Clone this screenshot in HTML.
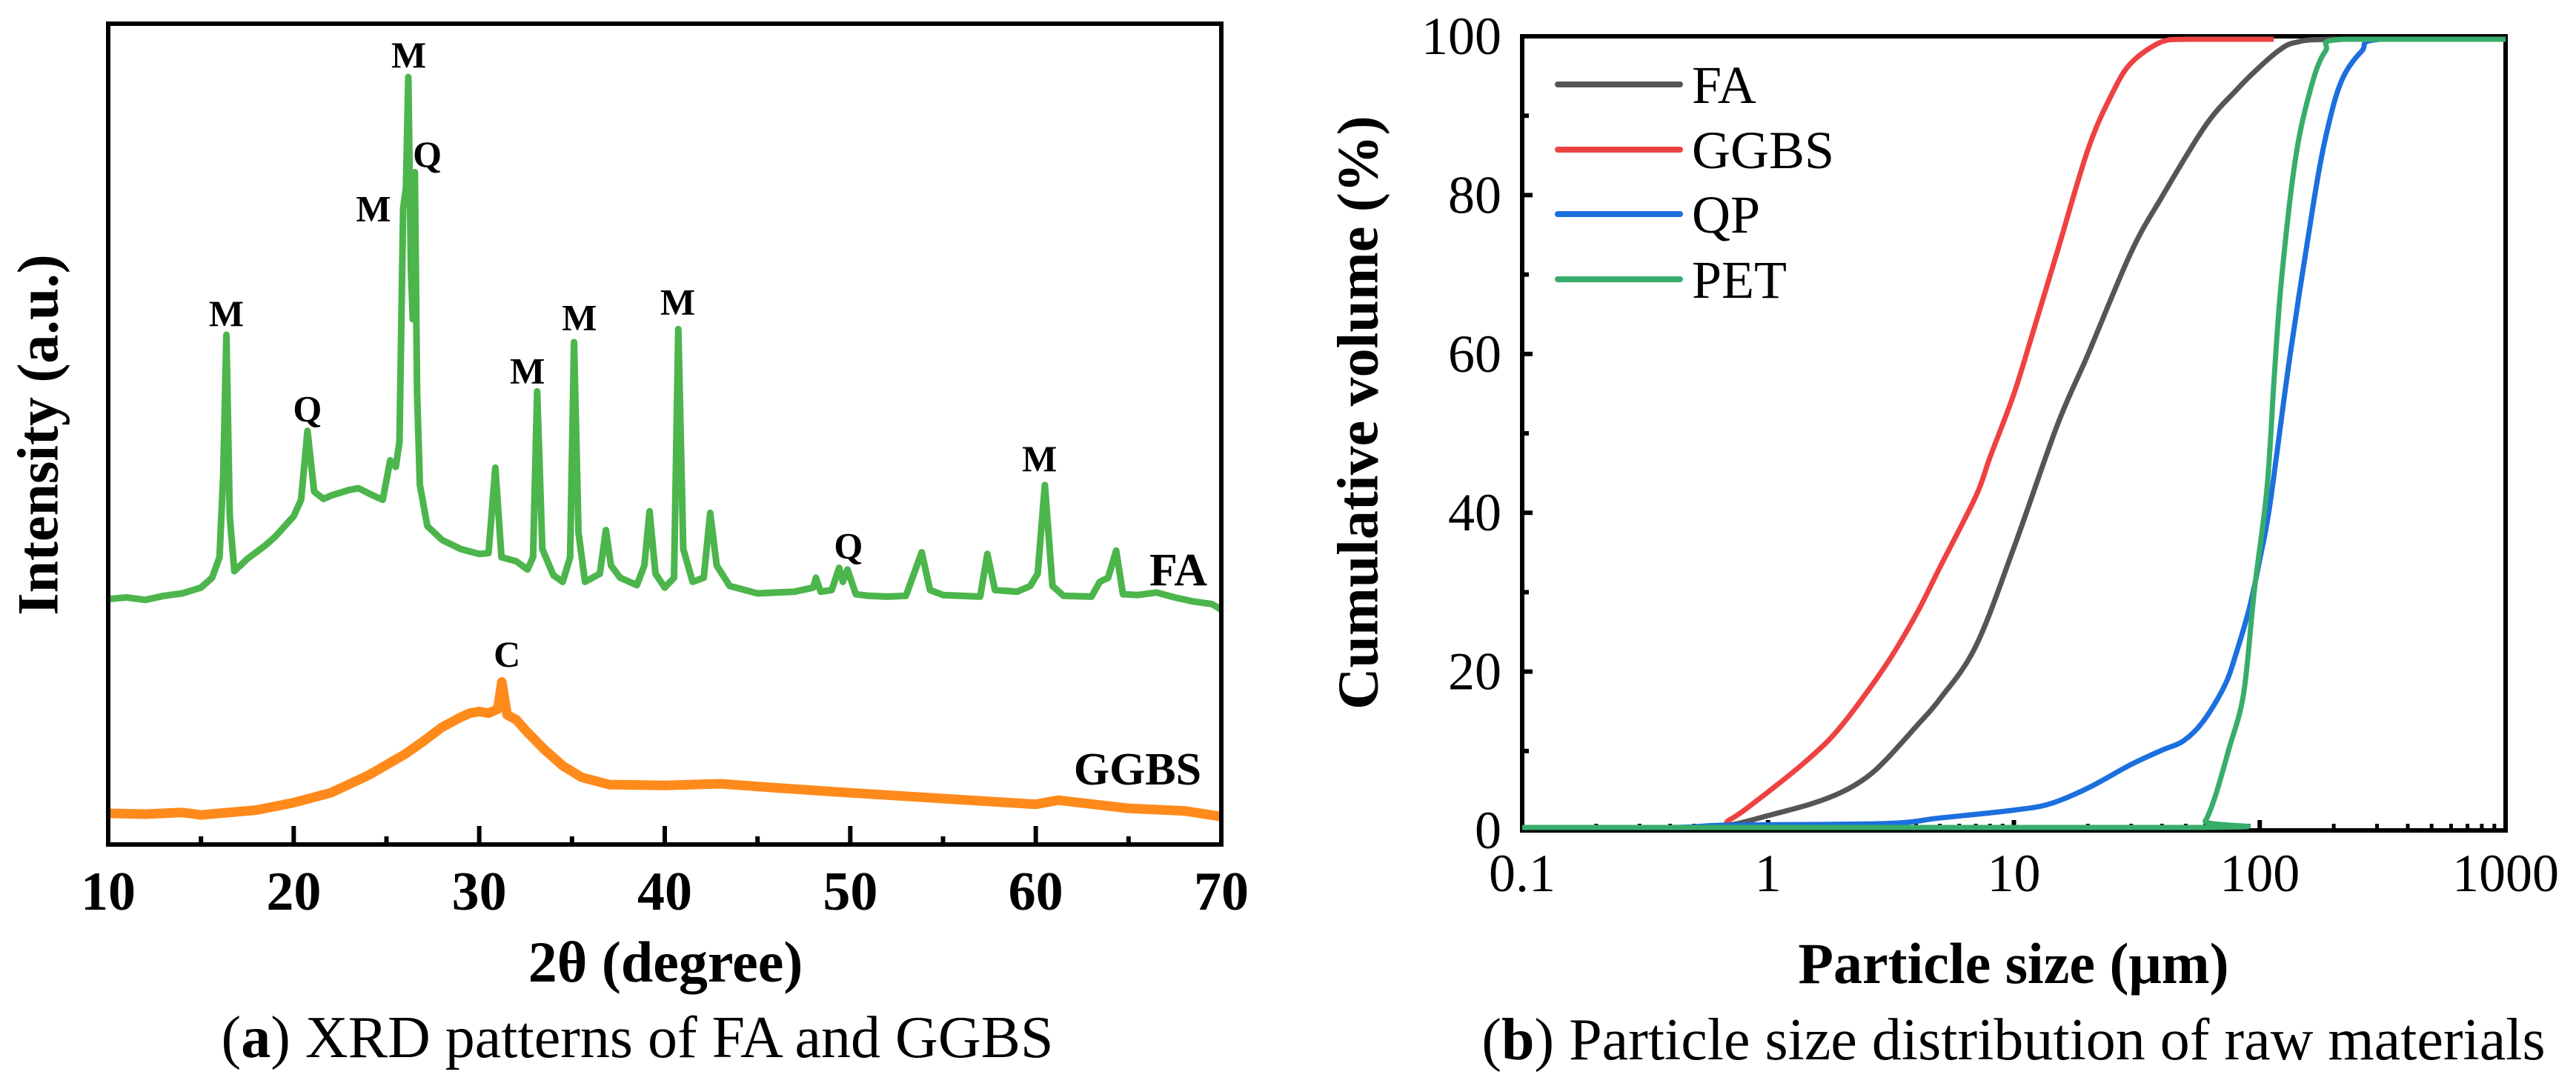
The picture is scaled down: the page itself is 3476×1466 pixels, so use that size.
<!DOCTYPE html>
<html><head><meta charset="utf-8"><style>
html,body{margin:0;padding:0;background:#fff;}
svg{display:block;font-family:"Liberation Serif",serif;}
</style></head><body>
<svg id="fig" width="3476" height="1466" viewBox="0 0 3476 1466" xmlns="http://www.w3.org/2000/svg">
<g id="left"></g>
<g id="right"></g>
</svg>
<script>
// ---------- XRD data (2θ degree, intensity a.u. 0-100 scale) ----------
const faX = [10,11,12,13,14,15,15.6,16,16.2,16.37,16.55,16.8,17.5,18.5,19,20,20.4,20.74,21.1,21.6,22,23,23.5,24.3,24.8,25.2,25.5,25.7,25.9,26.05,26.18,26.32,26.42,26.53,26.65,26.8,27.2,28,29,30,30.5,30.87,31.2,32,32.6,32.9,33.12,33.4,34,34.5,34.9,35.11,35.35,35.7,36.5,36.83,37.1,37.6,38.5,38.9,39.18,39.5,40,40.5,40.73,41,41.5,42.1,42.45,42.8,43.5,45,47,48,48.15,48.4,49,49.4,49.6,49.85,50.3,51,52,53,53.85,54.3,55,57,57.39,57.8,59,59.7,60.1,60.49,60.9,61.5,63,63.45,63.9,64.33,64.7,65.5,66.5,67.5,68.5,69.5,70];
const faY = [29.9,30.1,29.8,30.3,30.6,31.3,32.5,35,45,62.1,40,33.3,34.8,36.5,37.5,40,42,50.4,43,42.1,42.5,43.2,43.4,42.5,42,46.8,46,49,77.5,80,93.5,70,64,81.9,55,43.8,38.8,37.1,36,35.4,35.5,45.9,35,34.5,33.5,35,55.2,36,32.8,32,35,61.2,38,32,33,38.3,34,32.5,31.6,34,40.6,33,31.3,32.5,62.8,36,32,32.5,40.4,34,31.5,30.6,30.8,31.3,32.5,30.8,31,33.7,32,33.5,30.5,30.3,30.2,30.3,35.6,31,30.4,30.2,35.4,31,30.8,31.5,33,43.8,31.5,30.3,30.2,32,32.5,35.8,30.5,30.4,30.7,30.1,29.6,29.3,28.6];
const ggX = [10,12,14,15,16,18,20,22,24,26,27,28,29,29.5,30,30.5,31,31.22,31.5,32,32.5,33.5,34.5,35.5,37,40,43,46,50,55,60,61.2,65,68,70];
const ggY = [3.8,3.7,3.9,3.6,3.8,4.2,5.1,6.3,8.4,11,12.6,14.3,15.5,16,16.2,16,16.5,19.8,15.8,15.2,13.9,11.6,9.6,8.2,7.3,7.2,7.4,6.9,6.3,5.6,4.9,5.4,4.4,4.1,3.4];
const xrdTicks = [10,20,30,40,50,60,70];
const xrdMinor = [15,25,35,45,55,65];
const peakText = ["M","Q","M","M","Q","M","M","M","Q","M","C"];
const peakDeg  = [16.37,20.74,24.3,26.2,27.2,32.6,35.4,40.7,49.9,60.2,31.5];
const peakAu   = [64.7,53.1,77.5,96.2,84.1,57.7,64.2,66.1,36.4,47,23.2];

// ---------- PSD data (μm, cumulative %) ----------
const psdFAx = [0.1,0.5,0.7,1,1.5,2,2.5,3,4,5,7,10,15,20,30,40,60,80,100,120,140,200,1000];
const psdFAy = [0,0,0.3,1.5,3,4.5,6.3,8.5,12.8,16.3,23,35.5,51,60,73,80,89,93.5,96.5,98.6,99.6,100,100];
const psdGGx = [0.1,0.55,0.7,1,1.5,2,3,4,5,7,8,10,12,15,20,25,30,40,50,114];
const psdGGy = [0,0,1,4.5,9,13,20.5,27,33,42,47,55,63,73,86,93,97,99.7,100,100];
const psdQPx = [0.1,0.4,0.7,3,5,10,14,20,30,40,49,59,72,80,91,100,110,133,167,190,217,260,310,1000];
const psdQPy = [0,0,0.3,0.5,1.2,2.2,3,5,8,9.8,11,13.5,18,22,28,34,41,60,80,89,95,98.5,100,100];
const psdPETx = [0.1,55,60,66,75,86,95,107,115,123,140,162,185,220,1000];
const psdPETy = [0,0,0.8,4,10,17,30,43,58,70,85,94,98.5,100,100];
const psdYTicks = [0,20,40,60,80,100];
const psdXTicks = [0.1,1,10,100,1000];
const psdXLabels = ["0.1","1","10","100","1000"];
const legendNames = ["FA","GGBS","QP","PET"];

const NS = "http://www.w3.org/2000/svg";
function mk(parent, tag, attrs, txt){
  const e = document.createElementNS(NS, tag);
  for (const k in attrs) e.setAttribute(k, attrs[k]);
  if (txt !== undefined) e.textContent = txt;
  parent.appendChild(e);
  return e;
}
// ===== left chart =====
const L = document.getElementById('left');
const lx0=146, lx1=1648, ly0=32, ly1=1140;
const xL = d => lx0 + (d-10)/(60)*(lx1-lx0);
const yL = v => ly1 - v*(ly1-ly0)/100;
function linePath(xs, ys, fx, fy){ return xs.map((x,i)=>(i?'L':'M')+fx(x).toFixed(1)+' '+fy(ys[i]).toFixed(1)).join(' '); }
let p = mk(L,'path',{d:linePath(ggX,ggY,xL,yL),fill:'none',stroke:'#ff8a1c','stroke-width':13,'stroke-linejoin':'round'});
 
p = mk(L,'path',{d:linePath(faX,faY,xL,yL),fill:'none',stroke:'#4cb54c','stroke-width':9,'stroke-linejoin':'round'});
 
p = mk(L,'rect',{x:lx0,y:ly0,width:lx1-lx0,height:ly1-ly0,fill:'none',stroke:'#000','stroke-width':6});
 
xrdTicks.forEach(t=>{
  let e=mk(L,'line',{x1:xL(t),x2:xL(t),y1:ly1,y2:ly1-25,stroke:'#000','stroke-width':6});
   
  e=mk(L,'text',{x:xL(t),y:1228,'text-anchor':'middle','font-size':74,'font-weight':'bold'},String(t));
   
});
xrdMinor.forEach(t=>{
  const e=mk(L,'line',{x1:xL(t),x2:xL(t),y1:ly1,y2:ly1-11,stroke:'#000','stroke-width':6});
   
});
peakText.forEach((t,i)=>{
  const e=mk(L,'text',{x:xL(peakDeg[i]),y:yL(peakAu[i])+17,'text-anchor':'middle','font-size':50,'font-weight':'bold'},t);
   
});
p=mk(L,'text',{x:1590,y:790,'text-anchor':'middle','font-size':62,'font-weight':'bold'},'FA');
 
p=mk(L,'text',{x:1535,y:1059,'text-anchor':'middle','font-size':62,'font-weight':'bold'},'GGBS');
 
p=mk(L,'text',{x:51,y:587,'text-anchor':'middle','dominant-baseline':'central','font-size':78,'font-weight':'bold',transform:'rotate(-90 51 587)'},'Intensity (a.u.)');
 
p=mk(L,'text',{x:898,y:1325,'text-anchor':'middle','font-size':78,'font-weight':'bold'},'2θ (degree)');
 
p=mk(L,'text',{x:860,y:1427,'text-anchor':'middle','font-size':80});
 
p.innerHTML='(<tspan font-weight="bold">a</tspan>) XRD patterns of FA and GGBS';

// ===== right chart =====
const R = document.getElementById('right');
const rx0=2054, rx1=3381, ry0=49, ry1=1121;
const xR = v => rx0 + (Math.log10(v)+1)/4*(rx1-rx0);
const yR = v => ry1 - 4 - v/100*(ry1-ry0-8);
const series = [[psdFAx,psdFAy,'#555555','fa'],[psdGGx,psdGGy,'#ee4242','ggbs'],[psdQPx,psdQPy,'#1c6fde','qp'],[psdPETx,psdPETy,'#38ad6b','pet']];
function smooth(xs,ys){
  const pts=xs.map((x,i)=>[xR(x),yR(ys[i])]);
  let d='M'+pts[0][0].toFixed(1)+' '+pts[0][1].toFixed(1);
  for(let i=0;i<pts.length-1;i++){
    const p0=pts[Math.max(0,i-1)],p1=pts[i],p2=pts[i+1],p3=pts[Math.min(pts.length-1,i+2)];
    let c1=[p1[0]+(p2[0]-p0[0])/6,p1[1]+(p2[1]-p0[1])/6];
    let c2=[p2[0]-(p3[0]-p1[0])/6,p2[1]-(p3[1]-p1[1])/6];
    const lo=Math.min(p1[1],p2[1]),hi=Math.max(p1[1],p2[1]);
    c1[1]=Math.min(hi,Math.max(lo,c1[1])); c2[1]=Math.min(hi,Math.max(lo,c2[1]));
    d+=' C'+c1[0].toFixed(1)+' '+c1[1].toFixed(1)+' '+c2[0].toFixed(1)+' '+c2[1].toFixed(1)+' '+p2[0].toFixed(1)+' '+p2[1].toFixed(1);
  }
  return d;
}
p=mk(R,'rect',{x:rx0,y:ry0,width:rx1-rx0,height:ry1-ry0,fill:'none',stroke:'#000','stroke-width':6});
 
psdYTicks.forEach(t=>{
  const yy = ry1 - t/100*(ry1-ry0);
  let e=mk(R,'line',{x1:rx0,x2:rx0+14,y1:yy,y2:yy,stroke:'#000','stroke-width':6});
   
  e=mk(R,'text',{x:2026,y:yy+24,'text-anchor':'end','font-size':72},String(t));
   
  if(t<100){
    const ym = ry1 - (t+10)/100*(ry1-ry0);
    e=mk(R,'line',{x1:rx0,x2:rx0+9,y1:ym,y2:ym,stroke:'#000','stroke-width':6});
     
  }
});
psdXTicks.forEach((t,i)=>{
  let e=mk(R,'line',{x1:xR(t),x2:xR(t),y1:ry1,y2:ry1-14,stroke:'#000','stroke-width':6});
   
  e=mk(R,'text',{x:xR(t),y:1203,'text-anchor':'middle','font-size':72},psdXLabels[i]);
   
  if(i<psdXTicks.length-1){
    for(let m=2;m<10;m++){
      e=mk(R,'line',{x1:xR(t*m),x2:xR(t*m),y1:ry1,y2:ry1-9,stroke:'#000','stroke-width':5});
       
    }
  }
});
series.forEach(s=>{
  const e=mk(R,'path',{d:smooth(s[0],s[1]),fill:'none',stroke:s[2],'stroke-width':7,'stroke-linejoin':'round'});
   
});
const legY=[114,202,289,377];
legendNames.forEach((n,i)=>{
  let e=mk(R,'line',{x1:2102,x2:2267,y1:legY[i],y2:legY[i],stroke:series[i][2],'stroke-width':8,'stroke-linecap':'round'});
   
  e=mk(R,'text',{x:2283,y:legY[i]+25,'font-size':72},n);
   
});
p=mk(R,'text',{x:1832,y:557,'text-anchor':'middle','dominant-baseline':'central','font-size':78,'font-weight':'bold',transform:'rotate(-90 1832 557)'},'Cumulative volume (%)');
 
p=mk(R,'text',{x:2717,y:1327,'text-anchor':'middle','font-size':78,'font-weight':'bold'},'Particle size (μm)');
 
p=mk(R,'text',{x:2717,y:1430,'text-anchor':'middle','font-size':80});
 
p.innerHTML='(<tspan font-weight="bold">b</tspan>) Particle size distribution of raw materials';
</script>
</body></html>
